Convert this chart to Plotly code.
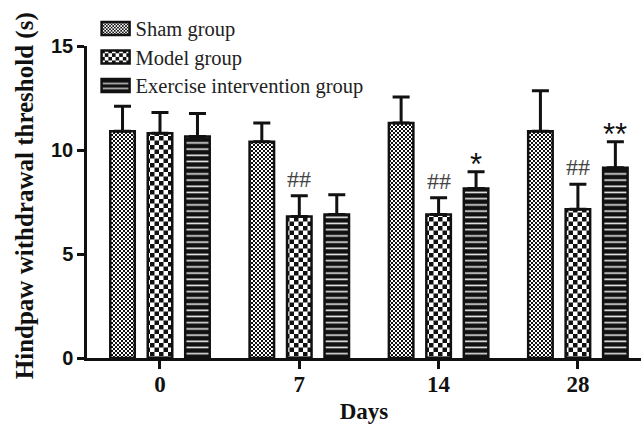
import plotly.graph_objects as go

# Hindpaw withdrawal threshold (s), mean and SEM per group and day
days = ["0", "7", "14", "28"]
group_names = ["Sham group", "Model group", "Exercise intervention group"]
sham_mean = [10.9, 10.4, 11.3, 10.9]
sham_sem = [1.2, 0.9, 1.25, 1.95]
model_mean = [10.8, 6.8, 6.9, 7.15]
model_sem = [1.0, 1.0, 0.8, 1.2]
exercise_mean = [10.65, 6.9, 8.15, 9.15]
exercise_sem = [1.1, 0.95, 0.8, 1.25]

# significance marks: (day index, group index, text)
marks = [(1, 1, "##"), (2, 1, "##"), (3, 1, "##"), (2, 2, "*"), (3, 2, "**")]

SERIF = "Liberation Serif, Times New Roman, serif"
SANS = "Liberation Sans, Arial, sans-serif"

BARGAP = 0.193
SLOT = (1 - BARGAP) / 3

fig = go.Figure()
series = [
    ("sham", sham_mean, sham_sem, dict(shape=".", size=4, solidity=0.5)),
    ("model", model_mean, model_sem, dict(shape="+", size=9, solidity=0.4)),
    ("exer", exercise_mean, exercise_sem, dict(shape="-", size=6, solidity=0.3)),
]
for i, (uid, mean, sem, pat) in enumerate(series):
    if uid == "exer":
        pattern = dict(fillmode="replace", bgcolor="#111", fgcolor="#e8e8e8", **pat)
    else:
        pattern = dict(fillmode="replace", bgcolor="white", fgcolor="#111", **pat)
    fig.add_trace(go.Bar(
        x=days, y=mean, name=group_names[i], uid=uid,
        marker=dict(color="white", pattern=pattern,
                    line=dict(color="#111", width=2.5)),
        error_y=dict(type="data", array=sem, arrayminus=[0] * len(sem),
                     symmetric=False, color="#111", thickness=3, width=8.5),
    ))

means = [sham_mean, model_mean, exercise_mean]
sems = [sham_sem, model_sem, exercise_sem]
for d, g, txt in marks:
    star = "*" in txt
    fig.add_annotation(
        x=d + (g - 1) * SLOT, y=means[g][d] + sems[g][d],
        xref="x", yref="y", text=txt, showarrow=False,
        yanchor="bottom", yshift=-12 if star else 2,
        font=dict(family=SANS if star else SERIF,
                  size=31 if star else 24,
                  color="#111" if star else "#444"),
    )

fig.update_layout(
    width=641, height=424,
    margin=dict(l=87, r=0, t=46, b=66),
    paper_bgcolor="white", plot_bgcolor="white",
    barmode="group", bargap=BARGAP, bargroupgap=0.346,
    showlegend=True,
    legend=dict(x=0.0155, y=1.12, xanchor="left", yanchor="top",
                bgcolor="rgba(0,0,0,0)",
                font=dict(family=SERIF, size=20.5, color="#222")),
    xaxis=dict(type="category", range=[-0.524, 3.453],
               showline=True, linecolor="#111", linewidth=2.5,
               ticks="outside", ticklen=8, tickwidth=2.5, tickcolor="#111",
               tickfont=dict(family=SERIF, size=23, color="#111", weight="bold"),
               title=dict(text="Days", standoff=7,
                          font=dict(family=SERIF, size=23, color="#111", weight="bold")),
               showgrid=False, zeroline=False),
    yaxis=dict(range=[0, 15], dtick=5,
               showline=True, linecolor="#111", linewidth=2.5,
               ticks="outside", ticklen=7, tickwidth=2.5, tickcolor="#111",
               tickfont=dict(family=SANS, size=20, color="#111", weight="bold"),
               title=dict(text="&nbsp;&nbsp;Hindpaw withdrawal threshold (s)", standoff=11,
                          font=dict(family=SERIF, size=25, color="#111", weight="bold")),
               showgrid=False, zeroline=False),
)

# checkerboard and stripe fills for the three groups, wider legend swatches,
# tighter legend rows and day labels pulled closer to their ticks
post = """
var gd = document.getElementById('{plot_id}');
var fills = {
  sham: function(c){ return [2*c, 2*c, '<rect width="'+2*c+'" height="'+2*c+'" fill="#fff"/>' +
        '<rect width="'+c+'" height="'+c+'" fill="#111"/>' +
        '<rect x="'+c+'" y="'+c+'" width="'+c+'" height="'+c+'" fill="#111"/>']; },
  model: function(c){ return [2*c, 2*c, '<rect width="'+2*c+'" height="'+2*c+'" fill="#fff"/>' +
        '<rect width="'+c+'" height="'+c+'" fill="#111"/>' +
        '<rect x="'+c+'" y="'+c+'" width="'+c+'" height="'+c+'" fill="#111"/>']; },
  exer: function(c){ return [c, c, '<rect width="'+c+'" height="'+c+'" fill="#111"/>' +
        '<rect y="'+(c/2)+'" width="'+c+'" height="1.6" fill="#e8e8e8"/>']; }
};
var sizes = {sham: 2, model: 4.5, exer: 6.2};
Object.keys(fills).forEach(function(k){
  var f = fills[k](sizes[k]);
  gd.querySelectorAll('pattern[id*="' + k + '"]').forEach(function(p){
    p.setAttribute('width', f[0]);
    p.setAttribute('height', f[1]);
    p.innerHTML = f[2];
  });
});
gd.querySelectorAll('.legend .legendpoints path').forEach(function(p){
  p.setAttribute('d', 'M14,6.5H-14V-6.5H14Z');
});
var rows = gd.querySelectorAll('.legend .traces');
if (rows.length) {
  var m = /translate\\(([^,]+),\\s*([^)]+)\\)/.exec(rows[0].getAttribute('transform') || '');
  var x0 = m ? parseFloat(m[1]) : 0, y0 = m ? parseFloat(m[2]) : 0;
  rows.forEach(function(r, i){
    r.setAttribute('transform', 'translate(' + x0 + ',' + (y0 + i * 28.5) + ')');
  });
}
gd.querySelectorAll('.xtick text').forEach(function(t){
  t.setAttribute('y', parseFloat(t.getAttribute('y') || 0) - 4);
});
"""

fig.write_html("out.html", post_script=post)
